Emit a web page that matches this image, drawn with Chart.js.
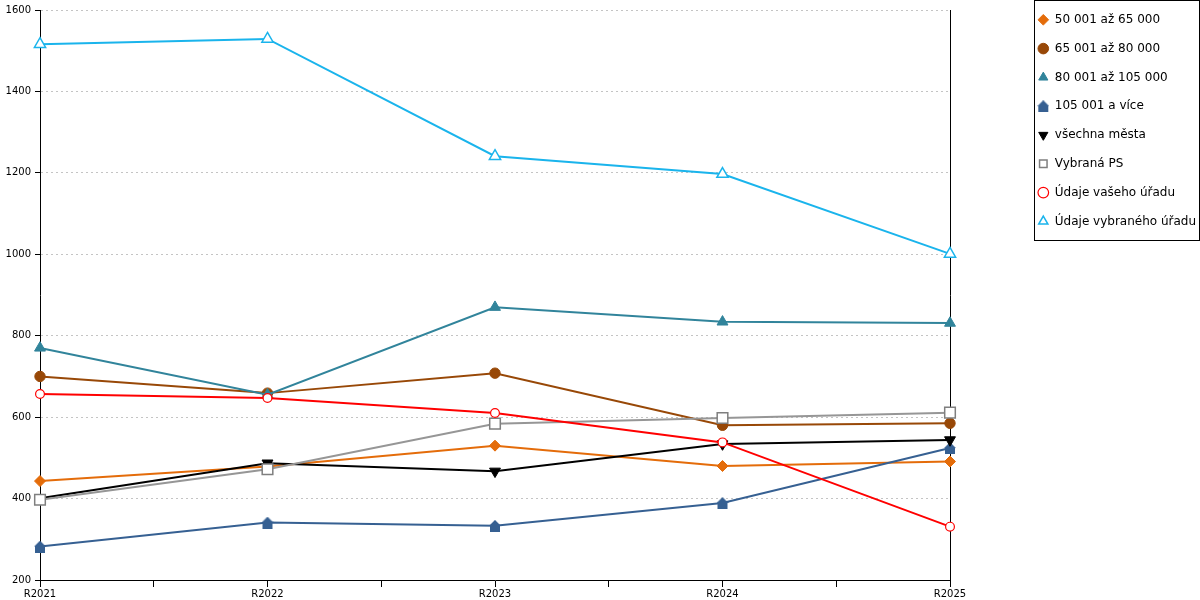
<!DOCTYPE html>
<html lang="cs">
<head>
<meta charset="utf-8">
<title>Graf</title>
<script src="https://cdn.jsdelivr.net/npm/chart.js@4.4.1/dist/chart.umd.min.js"></script>
<style>
html,body{margin:0;padding:0;background:#fff}
#obal{width:1200px;height:600px}
</style>
</head>
<body>
<div id="obal"><canvas id="graf" width="1200" height="600"></canvas></div>
<script>
let roky=['R2021','R2022','R2023','R2024','R2025']

let mesta50az65=[443,479,530,480,491]
let mesta65az80=[700,659,708,580,585]
let mesta80az105=[770,655,870,834,831]
let mesta105=[282,341,333,389,524]
let vsechnaMesta=[401,487,467,534,544]
let vybranaPS=[397,472,584,598,611]
let vasUrad=[657,647,610,538,331]
let vybranyUrad=[1516,1529,1241,1197,1001]

let nazvy=[
'50 001 až 65 000',
'65 001 až 80 000',
'80 001 až 105 000',
'105 001 a více',
'všechna města',
'Vybraná PS',
'Údaje vašeho úřadu',
'Údaje vybraného úřadu'
]

let osaY=[200,1600,200]

Chart.defaults.font.family='"DejaVu Sans", Verdana, sans-serif'
Chart.defaults.color='#000'

function body(hodnoty){
return hodnoty.map((v,i)=>({x:i,y:v}))
}

// bod jako domecek (trojuhelnik na ctverci)
function domecek(barva){
let c=document.createElement('canvas')
c.width=12
c.height=12
let g=c.getContext('2d')
g.fillStyle=barva
g.beginPath()
g.moveTo(6,0)
g.lineTo(12,6)
g.lineTo(11,6)
g.lineTo(11,12)
g.lineTo(1,12)
g.lineTo(1,6)
g.lineTo(0,6)
g.closePath()
g.fill()
return c
}

function rada(i,hodnoty,barva,styl){
return Object.assign({
label:nazvy[i],
data:body(hodnoty),
borderColor:barva,
backgroundColor:barva,
borderWidth:2,
pointBorderColor:barva,
pointBackgroundColor:barva,
pointBorderWidth:1,
pointRadius:5,
tension:0,
clip:false,
order:-i
},styl||{})
}

let datasety=[
rada(0,mesta50az65,'#e46c0a',{pointStyle:'rectRot',pointRadius:5.5}),
rada(1,mesta65az80,'#984807',{pointStyle:'circle',pointRadius:5.2}),
rada(2,mesta80az105,'#31849b',{pointStyle:'triangle',pointRadius:6.3}),
rada(3,mesta105,'#366092',{pointStyle:domecek('#366092')}),
rada(4,vsechnaMesta,'#000000',{pointStyle:'triangle',pointRotation:180,pointRadius:6.3}),
rada(5,vybranaPS,'#969696',{pointStyle:'rect',pointRadius:7.5,pointBorderColor:'#7f7f7f',pointBackgroundColor:'#fff',pointBorderWidth:1.5}),
rada(6,vasUrad,'#ff0000',{pointStyle:'circle',pointRadius:4.4,pointBackgroundColor:'#fff',pointBorderWidth:1.2}),
rada(7,vybranyUrad,'#1ab4ec',{pointStyle:'triangle',pointRadius:6.5,pointBackgroundColor:'#fff',pointBorderWidth:1.5})
]

// legenda: pevna sirka, posun nahoru a ramecek
let legendaUprava={
id:'legendaUprava',
beforeInit(chart){
let puvodni=chart.legend.fit
chart.legend.fit=function(){
puvodni.call(this)
this.width=179
}
},
afterLayout(chart){
chart.legend.top-=3
chart.legend.bottom-=3
},
afterDraw(chart){
let l=chart.legend
let ctx=chart.ctx
ctx.save()
ctx.strokeStyle='#000'
ctx.lineWidth=1
ctx.strokeRect(Math.round(l.left+13)+0.5,0.5,Math.round(l.right-l.left-14),240)
ctx.restore()
}
}

new Chart(document.getElementById('graf'),{
type:'line',
data:{datasets:datasety},
options:{
responsive:false,
animation:false,
layout:{padding:{top:0,left:0,right:0,bottom:0}},
plugins:{
tooltip:{enabled:false},
legend:{
position:'right',
align:'start',
labels:{
usePointStyle:true,
boxWidth:11,
boxHeight:7.5,
padding:16.8,
color:'#000',
font:{size:12},
sort:(a,b)=>a.datasetIndex-b.datasetIndex
}
}
},
scales:{
x:{
type:'linear',
min:0,
max:roky.length-1,
afterFit(s){s.height=20},
ticks:{
stepSize:0.5,
autoSkip:false,
maxRotation:0,
padding:1,
font:{size:10},
color:'#000',
callback:v=>Number.isInteger(v)?roky[v]:''
},
grid:{drawOnChartArea:false,tickLength:7,tickColor:'#000'},
border:{color:'#000'}
},
y:{
min:osaY[0],
max:osaY[1],
afterFit(s){s.width=40;s.paddingTop=10},
ticks:{stepSize:osaY[2],padding:4,font:{size:10},color:'#000',callback:v=>String(v)},
grid:{color:'#c4c4c4',tickColor:'#000',tickLength:5},
border:{color:'#000',dash:[2,3]}
},
y2:{
position:'right',
afterFit(s){s.width=71},
ticks:{display:false},
grid:{drawOnChartArea:false,drawTicks:false},
border:{color:'#000'}
}
}
},
plugins:[legendaUprava]
})
</script>
</body>
</html>
